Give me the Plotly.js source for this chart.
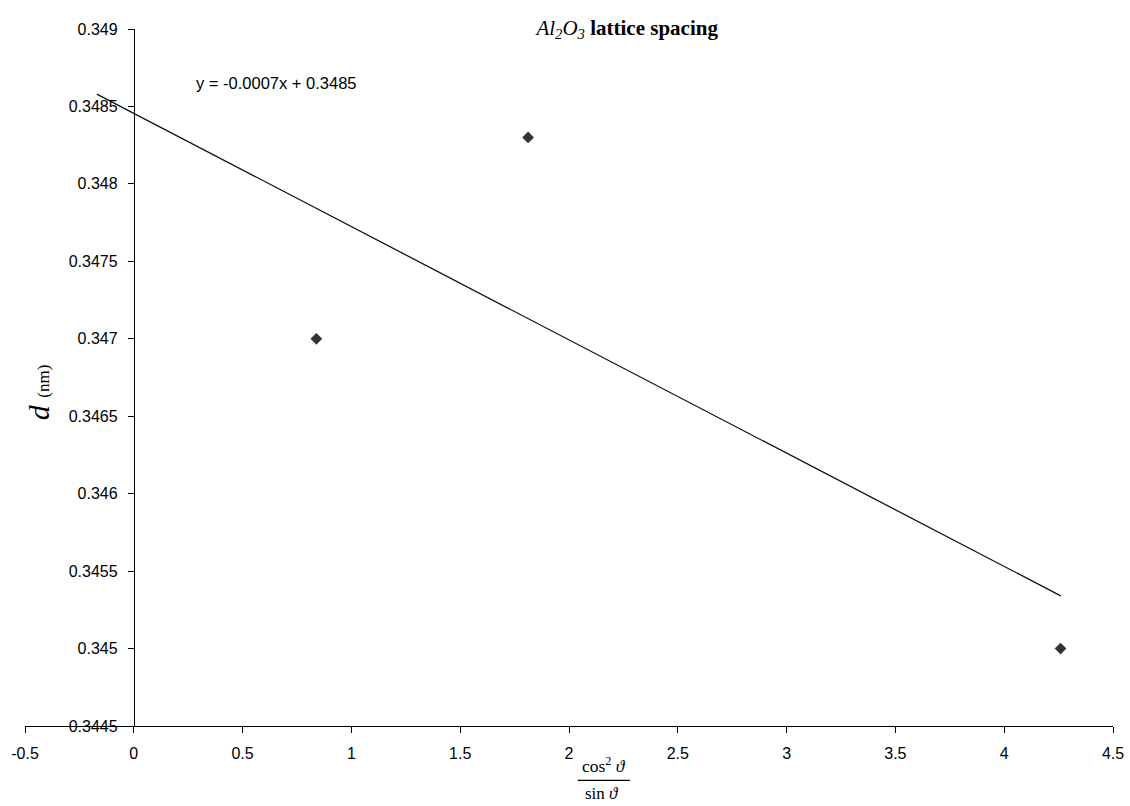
<!DOCTYPE html>
<html>
<head>
<meta charset="utf-8">
<script src="https://cdn.plot.ly/plotly-3.0.1.min.js"></script>
<style>html,body{margin:0;padding:0;background:#fff;}#chart{width:1130px;height:806px;}</style>
</head>
<body>
<div id="chart"></div>
<script>
// Measured points
const xValues = [0.839, 1.812, 4.259];
const dValues = [0.3470, 0.3483, 0.3450];
// Excel linear trendline as drawn (endpoints)
const trendX = [-0.17, 4.26];
const trendY = [0.34858, 0.34534];
// Tick labels
const xTickVals = [-0.5, 0, 0.5, 1, 1.5, 2, 2.5, 3, 3.5, 4, 4.5];
const xTickText = ['-0.5', '0', '0.5', '1', '1.5', '2', '2.5', '3', '3.5', '4', '4.5'];
const yTickVals = [0.3445, 0.345, 0.3455, 0.346, 0.3465, 0.347, 0.3475, 0.348, 0.3485, 0.349];
const yTickText = ['0.3445', '0.345', '0.3455', '0.346', '0.3465', '0.347', '0.3475', '0.348', '0.3485', '0.349'];
const equationText = 'y = -0.0007x + 0.3485';

const sans = 'Liberation Sans, Arial, sans-serif';
const serif = 'Liberation Serif, Times New Roman, serif';

const traces = [
  {
    x: trendX, y: trendY, type: 'scatter', mode: 'lines',
    line: {color: '#111111', width: 1.3}, hoverinfo: 'skip', showlegend: false
  },
  {
    x: xValues, y: dValues, type: 'scatter', mode: 'markers',
    marker: {symbol: 'diamond', size: 9, color: '#333333'}, showlegend: false
  }
];

const layout = {
  width: 1130, height: 806,
  margin: {l: 25, r: 17, t: 29, b: 80, pad: 0},
  paper_bgcolor: '#ffffff', plot_bgcolor: '#ffffff',
  showlegend: false,
  title: {
    text: '<i>Al<sub>2</sub>O<sub>3</sub></i> <b>lattice spacing</b>',
    font: {family: serif, size: 21, color: '#000'},
    xref: 'container', x: 0.555, xanchor: 'center',
    yref: 'container', y: 0.966, yanchor: 'middle'
  },
  xaxis: {
    range: [-0.5, 4.5], tickmode: 'array', tickvals: xTickVals, ticktext: xTickText,
    showgrid: false, zeroline: false, showline: true, linecolor: '#000', linewidth: 1,
    ticks: 'outside', ticklen: 6, tickcolor: '#000', ticklabelstandoff: 7,
    tickfont: {family: sans, size: 16, color: '#000'}
  },
  yaxis: {
    range: [0.3445, 0.349], tickmode: 'array', tickvals: yTickVals, ticktext: yTickText,
    anchor: 'free', position: 0.1,
    showgrid: false, zeroline: false, showline: true, linecolor: '#000', linewidth: 1,
    ticks: 'outside', ticklen: 6, tickcolor: '#000', ticklabelstandoff: 7,
    tickfont: {family: sans, size: 16, color: '#000'}
  },
  annotations: [
    {text: equationText, xref: 'paper', yref: 'paper', x: 0.231, y: 0.9225,
     xanchor: 'center', yanchor: 'middle', showarrow: false,
     font: {family: sans, size: 16.5, color: '#000'}},
    {text: '<i>d</i> <span style="font-size:17px">(nm)</span>', xref: 'paper', yref: 'paper',
     x: 0.012, y: 0.479, xanchor: 'center', yanchor: 'middle', textangle: -90, showarrow: false,
     font: {family: serif, size: 30, color: '#000'}},
    {text: 'cos<sup>2</sup> <i>ϑ</i>', xref: 'paper', yref: 'paper', x: 0.532, y: -0.056,
     xanchor: 'center', yanchor: 'middle', showarrow: false,
     font: {family: serif, size: 17.5, color: '#000'}},
    {text: 'sin <i>ϑ</i>', xref: 'paper', yref: 'paper', x: 0.53, y: -0.097,
     xanchor: 'center', yanchor: 'middle', showarrow: false,
     font: {family: serif, size: 17, color: '#000'}}
  ],
  shapes: [
    {type: 'line', xref: 'paper', yref: 'paper', x0: 0.508, x1: 0.556, y0: -0.078, y1: -0.078,
     line: {color: '#000', width: 1.2}}
  ]
};

Plotly.newPlot('chart', traces, layout, {displayModeBar: false, staticPlot: true});
</script>
</body>
</html>
